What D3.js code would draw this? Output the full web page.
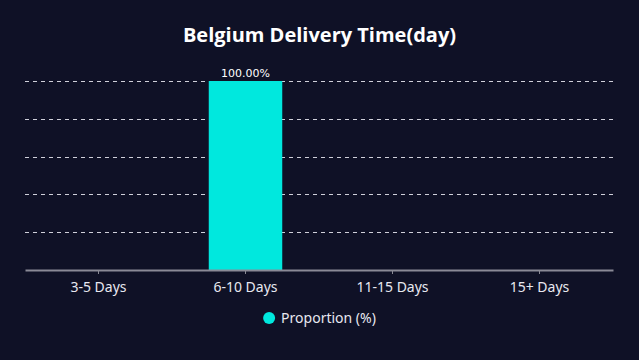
<!DOCTYPE html>
<html>
<head>
<meta charset="utf-8">
<script src="https://cdn.jsdelivr.net/npm/d3@7"></script>
<style>
  html, body { margin: 0; padding: 0; background: #0f1126; }
  svg { display: block; }
</style>
</head>
<body>
<div id="chart"></div>
<script>
(function(d3) {
  'use strict';

  var categories = ['3-5 Days', '6-10 Days', '11-15 Days', '15+ Days'];
  var proportions = [0, 100, 0, 0];
  var yTicks = [0, 20, 40, 60, 80, 100];
  var seriesName = 'Proportion (%)';
  var title = 'Belgium Delivery Time(day)';

  var width = 639;
  var height = 360;
  var margin = { top: 81, right: 26, bottom: 90, left: 25 };
  var barColor = '#00e8de';

  var svg = d3.select('#chart')
    .append('svg')
    .attr('width', width)
    .attr('height', height);

  svg.append('rect')
    .attr('width', width)
    .attr('height', height)
    .attr('fill', '#0f1126');

  var x = d3.scaleBand()
    .domain(categories)
    .range([margin.left, width - margin.right]);

  var y = d3.scaleLinear()
    .domain([0, 100])
    .range([height - margin.bottom, margin.top]);

  // grid lines
  svg.append('g')
    .selectAll('line')
    .data(yTicks.slice(1))
    .enter()
    .append('line')
    .attr('x1', margin.left)
    .attr('x2', width - margin.right)
    .attr('y1', function(d) { return Math.round(y(d)) + 0.5; })
    .attr('y2', function(d) { return Math.round(y(d)) + 0.5; })
    .attr('stroke', '#d0d0da')
    .attr('stroke-width', 1)
    .attr('stroke-dasharray', '4,4');

  // bars
  var barW = x.bandwidth() * 0.5;
  svg.append('g')
    .selectAll('rect')
    .data(proportions)
    .enter()
    .append('rect')
    .attr('x', function(d, i) { return x(categories[i]) + (x.bandwidth() - barW) / 2; })
    .attr('y', function(d) { return y(d); })
    .attr('width', barW)
    .attr('height', function(d) { return y(0) - y(d); })
    .attr('fill', barColor);

  // value labels
  svg.append('g')
    .selectAll('text')
    .data(proportions)
    .enter()
    .filter(function(d) { return d > 0; })
    .append('text')
    .attr('x', function(d) { return x(categories[proportions.indexOf(d)]) + x.bandwidth() / 2; })
    .attr('y', function(d) { return y(d) - 4; })
    .attr('text-anchor', 'middle')
    .attr('fill', '#ffffff')
    .style('font-family', '"DejaVu Sans", sans-serif')
    .style('font-size', '11px')
    .text(function(d) { return d.toFixed(2) + '%'; });

  // x axis
  var xAxis = svg.append('g')
    .attr('transform', 'translate(0,' + y(0) + ')')
    .call(d3.axisBottom(x).tickSizeInner(4).tickSizeOuter(0).tickPadding(8));

  xAxis.select('.domain')
    .attr('stroke', '#8a8a96')
    .attr('stroke-width', 2);
  xAxis.selectAll('.tick line')
    .attr('stroke', '#8a8a96');
  xAxis.selectAll('.tick text')
    .attr('fill', '#e8e8f0')
    .style('font-family', '"Noto Sans", sans-serif')
    .style('font-size', '14px');

  // title
  svg.append('text')
    .attr('x', width / 2)
    .attr('y', 42)
    .attr('text-anchor', 'middle')
    .attr('fill', '#ffffff')
    .style('font-family', '"Open Sans", sans-serif')
    .style('font-weight', 'bold')
    .style('font-size', '20px')
    .text(title);

  // legend
  var legend = svg.append('g')
    .attr('transform', 'translate(' + (width / 2) + ',318)');
  var legendText = legend.append('text')
    .attr('x', 0)
    .attr('y', 5)
    .attr('fill', '#e8e8f0')
    .style('font-family', '"Noto Sans", sans-serif')
    .style('font-size', '14px')
    .text(seriesName);
  var tw = legendText.node().getComputedTextLength();
  var total = 12 + 6 + tw;
  legend.append('circle')
    .attr('cx', -total / 2 + 6)
    .attr('cy', 0)
    .attr('r', 6)
    .attr('fill', barColor);
  legendText.attr('x', -total / 2 + 18);

})(window.d3);
</script>
</body>
</html>
